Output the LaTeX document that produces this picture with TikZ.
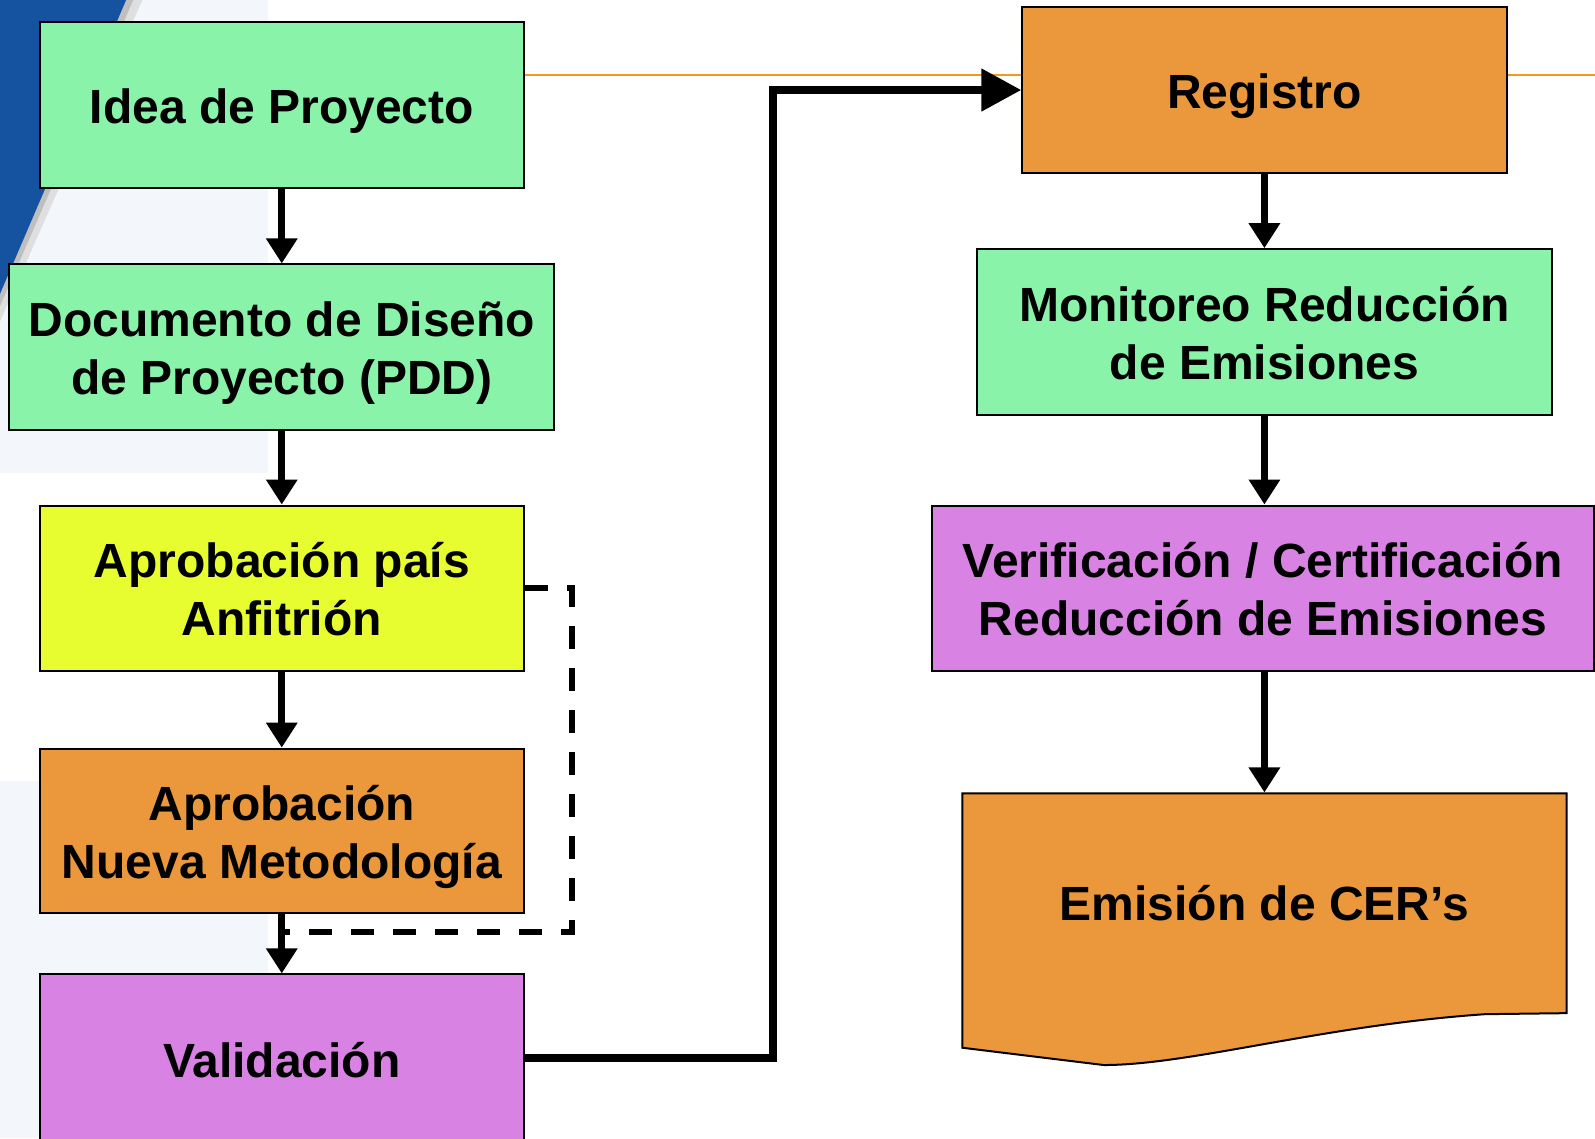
\documentclass[tikz,border=0pt]{standalone}
\usepackage{fontspec}
\setmainfont{Liberation Sans}
\usetikzlibrary{arrows.meta}
\definecolor{bxgreen}{HTML}{8AF3AA}
\definecolor{bxyellow}{HTML}{E8FD2F}
\definecolor{bxorange}{HTML}{EB983D}
\definecolor{bxpurple}{HTML}{D882E3}
\definecolor{panel}{HTML}{F3F6FA}
\definecolor{slideblue}{HTML}{1553A0}
\definecolor{rulecol}{HTML}{F7981D}
\newcommand\tstr{\rule{0pt}{23.5pt}}
\newcommand\bstr{\rule[-5pt]{0pt}{5pt}}
\begin{document}
\begin{tikzpicture}[x=0.5086pt,y=-0.5086pt,
  box/.style={draw=black,line width=1pt,inner sep=0pt,align=center,
    font=\fontsize{24pt}{29pt}\selectfont\bfseries,
    minimum width=242.1pt,minimum height=82.9pt},
  arr/.style={line width=3.3pt,-{Triangle[width=15pt,length=12.5pt]}},
  bigarr/.style={line width=4pt,-{Triangle[width=20.5pt,length=20pt]}},
  dashline/.style={line width=3pt,dash pattern=on 11.5pt off 9.5pt},
  orangerule/.style={draw=rulecol,line width=1pt}]
\useasboundingbox (0,0) rectangle (1568,1119);
\clip (0,0) rectangle (1568,1119);
% background
\fill[white] (0,0) rectangle (1568,1119);
\fill[panel] (0,0) rectangle (263.5,465);
\fill[panel] (0,768) rectangle (263.5,1119);
\fill[gray!25] (0,0) -- (140,0) -- (0,316) -- cycle;
\fill[gray!50] (0,0) -- (131,0) -- (0,301) -- cycle;
\fill[slideblue] (0,0) -- (124,0) -- (0,289) -- cycle;
% orange rule
\draw[orangerule] (515,74) -- (1568,74);
% left column
\node[box,fill=bxgreen] (idea) at (277,103.5) {\tstr Idea de Proyecto\bstr};
\node[box,fill=bxgreen,minimum width=272.6pt] (pdd) at (277,341.5) {\tstr Documento de Diseño\\de Proyecto (PDD)\bstr};
\node[box,fill=bxyellow] (pais) at (277,578.5) {\tstr Aprobación país\\Anfitrión\bstr};
\node[box,fill=bxorange,minimum height=82.4pt] (nueva) at (277,817) {\tstr Aprobación\\Nueva Metodología\bstr};
\node[box,fill=bxpurple,minimum height=97.7pt,text height=17pt,text depth=12pt] (valid) at (277,1054) {Validación};
% right column
\node[box,fill=bxorange] (registro) at (1243,88.5) {\tstr Registro\bstr};
\node[box,fill=bxgreen,minimum width=287.9pt] (monit) at (1243,326.5) {\tstr Monitoreo Reducción\\de Emisiones\bstr};
\node[box,fill=bxpurple,minimum width=331.1pt] (verif) at (1241.5,578.5) {\tstr Verificación / Certificación\\Reducción de Emisiones\bstr};
% document shape
\filldraw[fill=bxorange,draw=black,line width=1pt] (946,780) -- (1540,780) -- (1540,996) -- (1460,997)
  .. controls (1300,1008) and (1170,1047) .. (1085,1047) -- (946,1030) -- cycle;
\node[box,draw=none,minimum width=302.1pt,minimum height=108.8pt] (emision) at (1243,887) {\tstr Emisión de CER’s\bstr};
% connectors
\draw[arr] (idea) -- (pdd);
\draw[arr] (pdd) -- (pais);
\draw[arr] (pais) -- (nueva);
\draw[arr] (nueva) -- (valid.north);
\draw[arr] (registro) -- (monit);
\draw[arr] (monit.south) -- (monit.south |- verif.north);
\draw[arr] (emision.north |- verif.south) -- (emision.north);
\coordinate (dcorner) at (562,916);
\coordinate (djoin) at (277,916);
\draw[dashline] (pais.east) -| (dcorner) -- (djoin);
\coordinate (cx) at (760,88.5);
\draw[bigarr] ([yshift=7pt]valid.east) -| (cx) -- (registro.west);
\end{tikzpicture}
\end{document}
